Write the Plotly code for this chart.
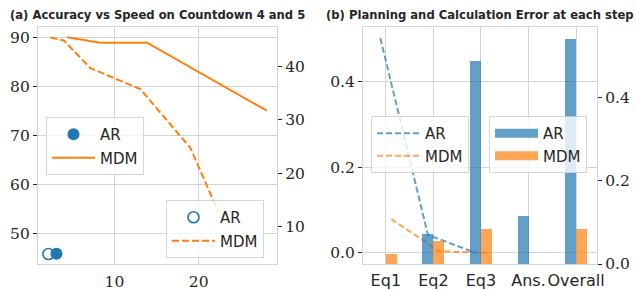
import numpy as np
import plotly.graph_objects as go

# ---------------- data: panel (a) ----------------
ar4_speed = [3.12]
ar4_acc = [45.8]
ar5_speed = [2.17]
ar5_acc = [4.88]
mdm4_speed = [4.39, 8.34, 13.88, 28.1]
mdm4_acc = [90.0, 88.9, 88.9, 75.0]
mdm5_speed = [2.41, 3.99, 7.15, 13.08, 19.02, 22.34]
mdm5_acc = [45.44, 44.88, 39.70, 35.76, 24.75, 12.74]

# ---------------- data: panel (b) ----------------
steps = ["Eq1", "Eq2", "Eq3", "Ans.", "Overall"]
bar_ar = [0.0, 0.071, 0.487, 0.114, 0.539]
bar_mdm = [0.025, 0.055, 0.083, 0.0, 0.083]
line_steps = ["Eq1", "Eq2", "Eq3"]
line_ar = [0.501, 0.042, 0.0]
line_mdm = [0.079, 0.004, 0.0]

BLUE = "#1f77b4"
ORANGE = "#ff7f0e"
BLUE_A = "rgba(31,119,180,0.7)"
ORANGE_A = "rgba(255,127,14,0.7)"
GRID = "#d4d4d4"
TXT = "#262626"
W, H = 635, 290

def px_x(a, b):
    return [a / W, b / W]

def px_y(top, bottom):
    return [1 - bottom / H, 1 - top / H]

fig = go.Figure()

# panel (a)
fig.add_trace(go.Scatter(x=ar4_speed, y=ar4_acc, mode="markers", name="AR",
                         marker=dict(color=BLUE, size=12), xaxis="x", yaxis="y",
                         legend="legend", legendgroup="a1"))
fig.add_trace(go.Scatter(x=mdm4_speed, y=mdm4_acc, mode="lines", name="MDM",
                         line=dict(color=ORANGE, width=2), xaxis="x", yaxis="y",
                         legend="legend", legendgroup="a2"))
fig.add_trace(go.Scatter(x=ar5_speed, y=ar5_acc, mode="markers", name="AR",
                         marker=dict(color=BLUE, size=11, symbol="circle-open",
                                     line=dict(color=BLUE, width=1.6)),
                         xaxis="x", yaxis="y2", legend="legend2", legendgroup="b1"))
fig.add_trace(go.Scatter(x=mdm5_speed, y=mdm5_acc, mode="lines", name="MDM",
                         line=dict(color=ORANGE, width=2, dash="7px,3px"),
                         xaxis="x", yaxis="y2", legend="legend2", legendgroup="b2"))

# panel (b)
idx = {s: i for i, s in enumerate(steps)}
off = 0.115
lx = np.array([idx[s] for s in line_steps], dtype=float)
bx = np.arange(len(steps), dtype=float)
fig.add_trace(go.Scatter(x=lx - off, y=line_ar, mode="lines", name="AR",
                         line=dict(color=BLUE_A, width=2, dash="6px,3px"),
                         xaxis="x2", yaxis="y3", legend="legend3", legendgroup="c1"))
fig.add_trace(go.Scatter(x=lx + off, y=line_mdm, mode="lines", name="MDM",
                         line=dict(color=ORANGE_A, width=2, dash="6px,3px"),
                         xaxis="x2", yaxis="y3", legend="legend3", legendgroup="c2"))
fig.add_trace(go.Bar(x=bx, y=bar_ar, width=0.23, offset=-0.23, name="AR",
                     marker=dict(color=BLUE_A, line=dict(width=0)), showlegend=False,
                     xaxis="x2", yaxis="y4"))
fig.add_trace(go.Bar(x=bx, y=bar_mdm, width=0.23, offset=0.0, name="MDM",
                     marker=dict(color=ORANGE_A, line=dict(width=0)), showlegend=False,
                     xaxis="x2", yaxis="y4"))
# legend proxies for bars
fig.add_trace(go.Scatter(x=[None], y=[None], mode="lines", name="AR",
                         line=dict(color=BLUE_A, width=9), xaxis="x2", yaxis="y4",
                         legend="legend4", legendgroup="d1"))
fig.add_trace(go.Scatter(x=[None], y=[None], mode="lines", name="MDM",
                         line=dict(color=ORANGE_A, width=9), xaxis="x2", yaxis="y4",
                         legend="legend4", legendgroup="d2"))

serif = dict(family="DejaVu Serif, Liberation Serif, serif", size=15.5, color=TXT)
sans = dict(family="DejaVu Sans", size=16, color=TXT)
common = dict(showgrid=True, gridcolor=GRID, gridwidth=1, zeroline=False,
              showline=True, linecolor=GRID, linewidth=1.2, automargin=False)
yl = dict(ticks="outside", ticklen=4, tickcolor=TXT, tickwidth=1)

dom_y = px_y(27, 264)
fig.update_layout(
    width=W, height=H, margin=dict(l=0, r=0, t=0, b=0, autoexpand=False),
    plot_bgcolor="white", paper_bgcolor="white", bargap=0,
    xaxis=dict(domain=px_x(38, 277), anchor="y", range=[0.93, 29.3],
               tickvals=[10, 20], ticks="", mirror=True, tickfont=serif,
               tickangle=0, ticklabelstandoff=3, **common),
    yaxis=dict(domain=dom_y, anchor="x", range=[43.7, 92.1],
               tickvals=[50, 60, 70, 80, 90], tickfont=serif, **common, **yl),
    yaxis2=dict(overlaying="y", side="right", anchor="x", range=[3.0, 47.4],
                tickvals=[10, 20, 30, 40], showgrid=False, zeroline=False,
                showline=True, linecolor=GRID, linewidth=1.2, automargin=False,
                tickfont=serif, **yl),
    xaxis2=dict(domain=px_x(363, 597), anchor="y3", range=[-0.48, 4.44],
                tickvals=list(bx), ticktext=steps, ticks="", mirror=True,
                tickfont=sans, tickangle=0, ticklabelstandoff=2, **common),
    yaxis3=dict(domain=dom_y, anchor="x2", range=[-0.026, 0.527],
                tickvals=[0.0, 0.2, 0.4], tickformat=".1f", tickfont=serif,
                **common, **yl),
    yaxis4=dict(overlaying="y3", side="right", anchor="x2", range=[0.0, 0.568],
                tickvals=[0.0, 0.2, 0.4], tickformat=".1f", showgrid=False,
                zeroline=False, showline=True, linecolor=GRID, linewidth=1.2,
                automargin=False, tickfont=serif, **yl),
)

leg = dict(bgcolor="rgba(255,255,255,0.8)", bordercolor="rgba(204,204,204,0.8)",
           borderwidth=1, font=dict(family="DejaVu Sans", size=15, color=TXT),
           xanchor="left", yanchor="top", itemwidth=43)
fig.update_layout(
    legend=dict(x=46 / W, y=1 - 117 / H, tracegroupgap=1, **leg),
    legend2=dict(x=166 / W, y=1 - 200 / H, tracegroupgap=1, **leg),
    legend3=dict(x=371 / W, y=1 - 116 / H, tracegroupgap=0, **leg),
    legend4=dict(x=489 / W, y=1 - 116 / H, tracegroupgap=0, **leg),
)

tfont = dict(family="DejaVu Sans", size=11.6, color=TXT)
fig.add_annotation(text="<b>(a) Accuracy vs Speed on Countdown 4 and 5</b>",
                   x=157.5 / W, y=1 - 15 / H, xref="paper", yref="paper",
                   showarrow=False, font=tfont, xanchor="center", yanchor="middle")
fig.add_annotation(text="<b>(b) Planning and Calculation Error at each step</b>",
                   x=480 / W, y=1 - 15 / H, xref="paper", yref="paper",
                   showarrow=False, font=tfont, xanchor="center", yanchor="middle")

fig.write_html("out.html", config={"displayModeBar": False},
               post_script="document.body.style.margin='0';document.body.style.padding='0';")
